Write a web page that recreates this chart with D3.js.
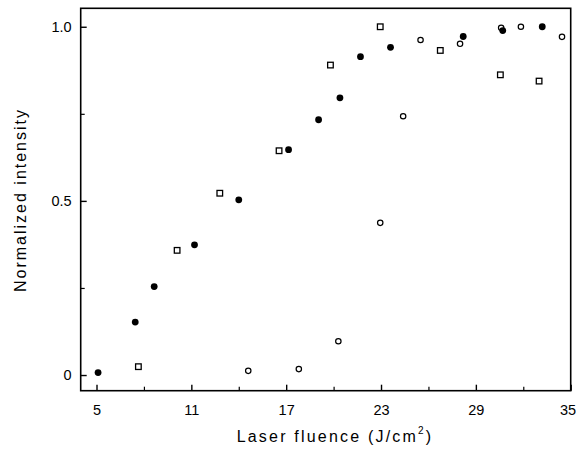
<!DOCTYPE html>
<html>
<head>
<meta charset="utf-8">
<script src="https://cdn.jsdelivr.net/npm/d3@7"></script>
<style>
  html, body { margin: 0; padding: 0; background: #fff; }
  svg { display: block; }
  text { font-family: "Liberation Sans", Arial, sans-serif; fill: #000; }
</style>
</head>
<body>
<script>
// ---- data ----
const filledX = [5.1, 7.45, 8.65, 11.2, 14.0, 17.15, 19.05, 20.4, 21.7, 23.6, 28.2, 30.7, 33.2];
const filledY = [0.007, 0.152, 0.254, 0.374, 0.503, 0.647, 0.733, 0.796, 0.914, 0.941, 0.972, 0.989, 1.0];

const squareX = [7.65, 10.1, 12.8, 16.55, 19.8, 22.95, 26.75, 30.55, 33.0];
const squareY = [0.024, 0.358, 0.522, 0.644, 0.89, 1.0, 0.932, 0.862, 0.844];

const openX = [14.6, 17.8, 20.3, 22.95, 24.4, 25.5, 28.0, 30.6, 31.85, 34.45];
const openY = [0.012, 0.017, 0.097, 0.437, 0.743, 0.962, 0.951, 0.997, 1.0, 0.971];

const xMajorTicks = [5, 11, 17, 23, 29, 35];
const xMinorTicks = [8, 14, 20, 26, 32];
const yMajorTicks = [0, 0.5, 1.0];
const yTickLabels = ["0", "0.5", "1.0"];
const yMinorTicks = [0.25, 0.75];

const xTitle = "Laser fluence (J/cm";
const yTitle = "Normalized intensity";

// ---- layout ----
const W = 576, H = 460;
const mLeft = 80.7, mRight = 570.7, mTop = 8.3, mBottom = 390.7;

const svg = d3.select("body").append("svg").attr("width", W).attr("height", H);

const x = d3.scaleLinear().domain([4, 35]).range([mLeft, mRight]);
const y = d3.scaleLinear().domain([-0.045, 1.053]).range([mBottom, mTop]);

// frame
svg.append("rect")
  .attr("x", mLeft).attr("y", mTop)
  .attr("width", mRight - mLeft).attr("height", mBottom - mTop)
  .attr("fill", "none").attr("stroke", "#000").attr("stroke-width", 1.6);

// x axis (ticks inward)
const xAxis = d3.axisBottom(x).tickValues(xMajorTicks).tickSizeInner(-6).tickSizeOuter(0)
  .tickPadding(14).tickFormat(d3.format("d"));
const gx = svg.append("g").attr("transform", `translate(0,${mBottom})`).call(xAxis);
gx.select(".domain").remove();
gx.selectAll(".tick line").attr("stroke", "#000").attr("stroke-width", 1.4);
gx.selectAll(".tick text").attr("font-size", 14.5).attr("font-family", "Liberation Sans, Arial, sans-serif").attr("fill", "#000");
gx.selectAll(".tick text").filter(d => d === 35).attr("text-anchor", "end").attr("x", 5);

const xMinor = d3.axisBottom(x).tickValues(xMinorTicks).tickSizeInner(-4).tickSizeOuter(0).tickFormat("");
const gxm = svg.append("g").attr("transform", `translate(0,${mBottom})`).call(xMinor);
gxm.select(".domain").remove();
gxm.selectAll(".tick line").attr("stroke", "#000").attr("stroke-width", 1.2);

// y axis (ticks inward)
const yAxis = d3.axisLeft(y).tickValues(yMajorTicks).tickSizeInner(-6).tickSizeOuter(0)
  .tickPadding(9).tickFormat((d, i) => yTickLabels[i]);
const gy = svg.append("g").attr("transform", `translate(${mLeft},0)`).call(yAxis);
gy.select(".domain").remove();
gy.selectAll(".tick line").attr("stroke", "#000").attr("stroke-width", 1.4);
gy.selectAll(".tick text").attr("font-size", 14.5).attr("font-family", "Liberation Sans, Arial, sans-serif").attr("fill", "#000");

const yMinor = d3.axisLeft(y).tickValues(yMinorTicks).tickSizeInner(-4).tickSizeOuter(0).tickFormat("");
const gym = svg.append("g").attr("transform", `translate(${mLeft},0)`).call(yMinor);
gym.select(".domain").remove();
gym.selectAll(".tick line").attr("stroke", "#000").attr("stroke-width", 1.2);

// titles
const xt = svg.append("text")
  .attr("x", 335).attr("y", 442)
  .attr("text-anchor", "middle")
  .attr("font-size", 16).attr("letter-spacing", 2.2);
xt.append("tspan").text(xTitle);
xt.append("tspan").attr("font-size", 10).attr("dy", -8).text("2");
xt.append("tspan").attr("dy", 8).text(")");

svg.append("text")
  .attr("transform", `translate(26,200) rotate(-90)`)
  .attr("text-anchor", "middle")
  .attr("font-size", 16).attr("letter-spacing", 2)
  .text(yTitle);

// data marks
const filled = filledX.map((v, i) => ({x: v, y: filledY[i]}));
const squares = squareX.map((v, i) => ({x: v, y: squareY[i]}));
const opens = openX.map((v, i) => ({x: v, y: openY[i]}));

svg.append("g").selectAll("rect").data(squares).join("rect")
  .attr("x", d => x(d.x) - 2.8).attr("y", d => y(d.y) - 2.8)
  .attr("width", 5.6).attr("height", 5.6)
  .attr("fill", "#fff").attr("stroke", "#000").attr("stroke-width", 1.3);

svg.append("g").selectAll("circle").data(opens).join("circle")
  .attr("cx", d => x(d.x)).attr("cy", d => y(d.y)).attr("r", 2.7)
  .attr("fill", "#fff").attr("stroke", "#000").attr("stroke-width", 1.2);

svg.append("g").selectAll("circle").data(filled).join("circle")
  .attr("cx", d => x(d.x)).attr("cy", d => y(d.y)).attr("r", 3.4)
  .attr("fill", "#000");
</script>
</body>
</html>
